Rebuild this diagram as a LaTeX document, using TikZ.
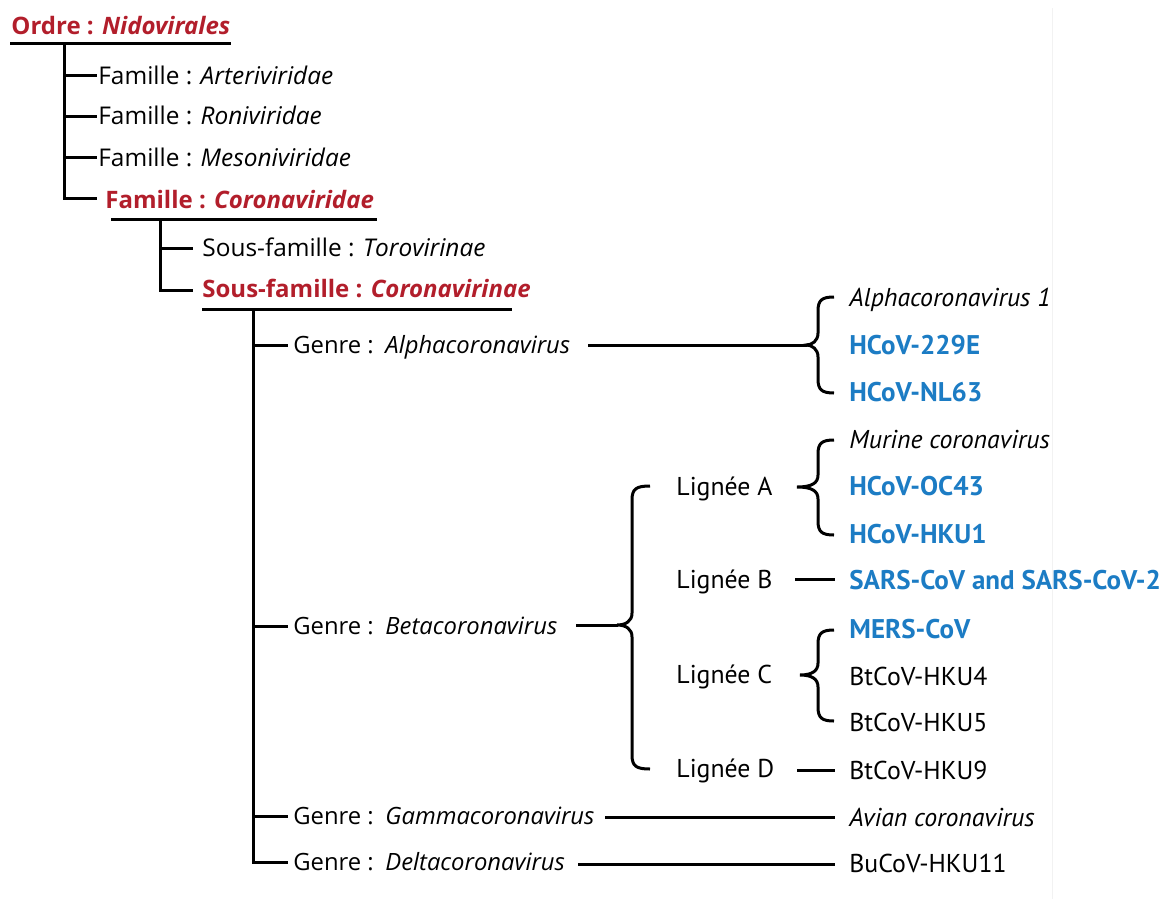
\documentclass[tikz,border=0pt]{standalone}
\usepackage{fontspec}
\setmainfont{Open Sans}
\newfontfamily\pts{PT Sans}
\definecolor{tred}{RGB}{178,30,43}
\definecolor{tblue}{RGB}{28,124,196}
\newcommand\cbrace[6]{%
  \draw[conn] ({#3},{#4}) .. controls ({#2+4},{#4}) and ({#2},{#4+3}) .. ({#2},{#4+14})
    -- ({#2},{#5-12}) .. controls ({#2},{#5-4}) and ({#2-6},{#5}) .. ({#1},{#5})
    .. controls ({#2-6},{#5}) and ({#2},{#5+4}) .. ({#2},{#5+12})
    -- ({#2},{#6-14}) .. controls ({#2},{#6-3}) and ({#2+4},{#6}) .. ({#3},{#6});}
\begin{document}
\begin{tikzpicture}[x=0.5pt,y=-0.5pt,
  conn/.style={line width=1.5pt,line cap=butt},
  lbl/.style={anchor=base west,inner sep=0pt,font=\fontsize{12.2}{14}\selectfont},
  glbl/.style={anchor=base west,inner sep=0pt,font=\fontsize{11.9}{14}\selectfont},
  hdr/.style={anchor=base west,inner sep=0pt,font=\fontsize{12}{14}\selectfont\bfseries,text=tred},
  sp/.style={anchor=base west,inner sep=0pt,font=\pts\fontsize{12.9}{15}\selectfont},
  spb/.style={anchor=base west,inner sep=0pt,font=\pts\bfseries\fontsize{13.5}{15}\selectfont,text=tblue}]
\useasboundingbox (0,0) rectangle (1170,899);
\draw[gray!10,line width=0.5pt] (1052,8) -- (1052,899);

% texts
\node[hdr] (ordre) at (11,35) {Ordre : \textit{Nidovirales}};
\node[lbl] (fam1) at (98,84) {Famille : \textit{Arteriviridae}};
\node[lbl] (fam2) at (98,124) {Famille : \textit{Roniviridae}};
\node[lbl] (fam3) at (98,166) {Famille : \textit{Mesoniviridae}};
\node[hdr] (fam4) at (105,208) {Famille : \textit{Coronaviridae}};
\node[lbl] (sf1) at (202,256) {Sous-famille : \textit{Torovirinae}};
\node[hdr] (sf2) at (202,297) {Sous-famille : \textit{Coronavirinae}};
\node[glbl] (g1) at (293,353) {\makebox[46pt][l]{Genre :}\textit{Alphacoronavirus}};
\node[glbl] (g2) at (293,634) {\makebox[46pt][l]{Genre :}\textit{Betacoronavirus}};
\node[glbl] (g3) at (293,824) {\makebox[46pt][l]{Genre :}\textit{Gammacoronavirus}};
\node[glbl] (g4) at (293,870) {\makebox[46pt][l]{Genre :}\textit{Deltacoronavirus}};

\node[sp] (la) at (676,495) {Lignée A};
\node[sp] (lb) at (676,588) {Lignée B};
\node[sp] (lc) at (676,683) {Lignée C};
\node[sp] (ld) at (676,777) {Lignée D};

\node[sp] (a1) at (849,306) {\textit{Alphacoronavirus 1}};
\node[spb] (a2) at (849,354) {HCoV-229E};
\node[spb] (a3) at (849,401) {HCoV-NL63};
\node[sp] (b1) at (849,448) {\textit{Murine coronavirus}};
\node[spb] (b2) at (849,495) {HCoV-OC43};
\node[spb] (b3) at (849,543) {HCoV-HKU1};
\node[spb] (b4) at (849,589) {SARS-CoV and SARS-CoV-2};
\node[spb] (c1) at (849,638) {MERS-CoV};
\node[sp] (c2) at (849,685) {BtCoV-HKU4};
\node[sp] (c3) at (849,731) {BtCoV-HKU5};
\node[sp] (d1) at (849,779) {BtCoV-HKU9};
\node[sp] (e1) at (849,826) {\textit{Avian coronavirus}};
\node[sp] (f1) at (849,872) {BuCoV-HKU11};

% level 1: order
\draw[conn] (10,44) coordinate (u1l) -- (231,44) coordinate (u1r);
\coordinate (v1) at (64,44);
\draw[conn] (v1) -- (64,198) coordinate (v1b) -- (97,198);
\draw[conn] (64,76) -- (97,76);
\draw[conn] (64,116) -- (97,116);
\draw[conn] (64,157) -- (97,157);

% level 2: Coronaviridae
\draw[conn] (111,219) -- (377,219);
\coordinate (v2) at (160,219);
\draw[conn] (v2) -- (160,290) -- (193,290);
\draw[conn] (160,248) -- (193,248);

% level 3: Coronavirinae
\draw[conn] (202,309) -- (512,309);
\coordinate (v3) at (253,309);
\draw[conn] (v3) -- (253,862) -- (288,862);
\draw[conn] (253,345) -- (288,345);
\draw[conn] (253,626) -- (288,626);
\draw[conn] (253,816) -- (288,816);

% Alpha
\draw[conn] (588,345) -- (807,345);
\cbrace{806}{818}{834}{297}{345}{393}
% Beta
\draw[conn] (576,625) -- (618,625);
\cbrace{617}{632}{650}{486}{625}{769}
\cbrace{797}{818}{834}{440}{487}{535}
\draw[conn] (795,579) -- (835,579);
\cbrace{800}{818}{834}{630}{675}{721}
\draw[conn] (797,770) -- (835,770);
% Gamma, Delta
\draw[conn] (605,817) -- (835,817);
\draw[conn] (578,864) -- (835,864);
\end{tikzpicture}
\end{document}
